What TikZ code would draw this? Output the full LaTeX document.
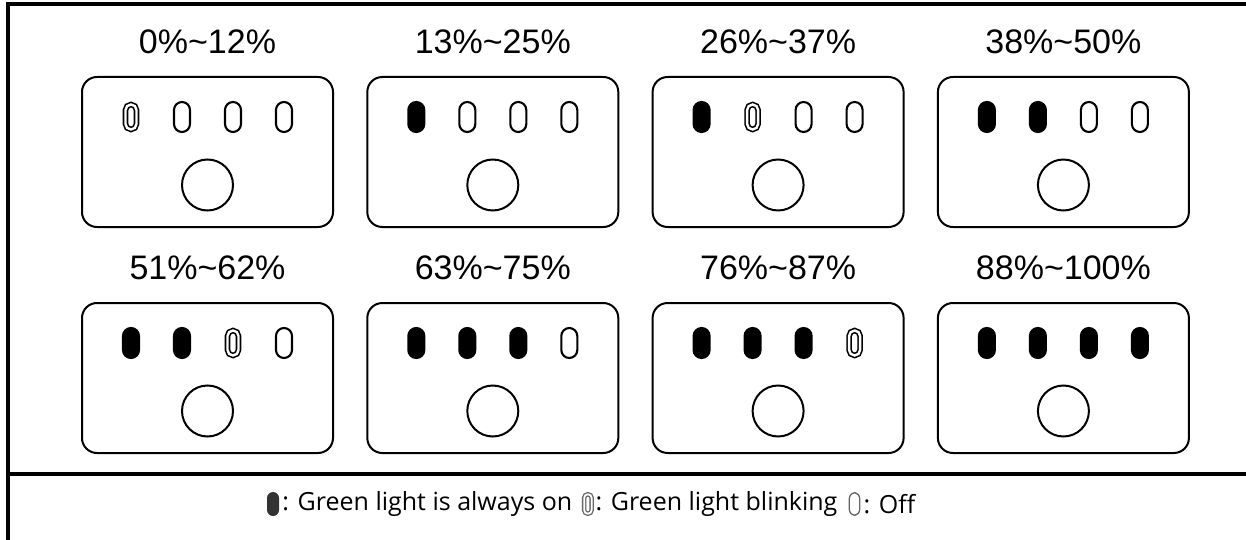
\documentclass[tikz,border=0pt]{standalone}
\usepackage{fontspec}
\setmainfont{Open Sans}
\newfontfamily\rangefont{Liberation Sans}
\usetikzlibrary{positioning}
\definecolor{icondark}{HTML}{333333}
\definecolor{icongrey}{HTML}{666666}
\tikzset{%
   tableline/.style={line width=3.2pt},
   panel/.style={
      draw,
      rounded corners=15pt,
      line width=2pt,
      minimum width=251pt,
      minimum height=150pt
   },
   rangetext/.style={
      font=\rangefont\fontsize{34}{34}\selectfont,
      inner sep=0pt
   },
   % lamp=on|off|blink picks one of the three looks below
   lamp/.style={lamp#1},
   lampbase/.style={
      rectangle,
      draw,
      inner sep=0pt,
      line width=2.1pt,
      rounded corners=8pt,
      minimum width=16pt,
      minimum height=30pt
   },
   lampon/.style={lampbase, fill=black},
   lampoff/.style={lampbase},
   lampblink/.style={
      lampbase,
      double,
      double distance=2.4pt,
      line width=1.6pt,
      rounded corners=5.5pt,
      minimum width=11pt,
      minimum height=25pt
   },
   button/.style={
      circle,
      draw,
      line width=2pt,
      inner sep=0pt,
      minimum size=51pt
   },
   key/.style={
      rectangle,
      inner sep=0pt,
      rounded corners=6pt,
      minimum width=12pt,
      minimum height=24pt
   },
   keytext/.style={font=\fontsize{25}{25}\selectfont, inner sep=0pt},
}

\begin{document}
\begin{tikzpicture}[x=1pt, y=-1pt]
   \useasboundingbox (0,0) rectangle (1246,540);
   % table lines
   \draw[tableline] (8,540) -- (8,4) -- (1246,4);
   \draw[tableline] (8,474) -- (1246,474);
   % one panel per charge range
   \foreach \rng/\c/\r/\la/\lb/\lc/\ld [count=\n] in {
      {0\%\textasciitilde12\%}/0/0/blink/off/off/off,
      {13\%\textasciitilde25\%}/1/0/on/off/off/off,
      {26\%\textasciitilde37\%}/2/0/on/blink/off/off,
      {38\%\textasciitilde50\%}/3/0/on/on/off/off,
      {51\%\textasciitilde62\%}/0/1/on/on/blink/off,
      {63\%\textasciitilde75\%}/1/1/on/on/on/off,
      {76\%\textasciitilde87\%}/2/1/on/on/on/blink,
      {88\%\textasciitilde100\%}/3/1/on/on/on/on} {
      \node[panel] (p\n) at ({207.5+285.3*\c}, {152+226*\r}) {};
      \node[rangetext, above=22pt of p\n] (r\n) {\rng};
      \foreach \s [count=\k] in {\la,\lb,\lc,\ld}
         \node[lamp/.expanded=\s] (p\n-\k)
            at ({207.5+285.3*\c+51*(\k-2.5)}, {152+226*\r-35}) {};
      \node[button] (b\n) at ({207.5+285.3*\c}, {152+226*\r+33}) {};
   }
   % legend
   \node[key, fill=icondark] (kon) at (273,504) {};
   \node[keytext, right=3pt of kon] (ton) {: Green light is always on};
   \node[key, right=11pt of ton, draw=icongrey, double, double distance=1.8pt,
      line width=1.3pt, minimum width=7.5pt, minimum height=19.5pt,
      rounded corners=3.7pt] (kbl) {};
   \node[keytext, right=3pt of kbl] (tbl) {: Green light blinking};
   \node[key, right=11pt of tbl, draw=icongrey, line width=1.3pt,
      minimum width=10.5pt, minimum height=22.5pt] (kof) {};
   \node[keytext, right=3pt of kof] (tof) {: Off};
\end{tikzpicture}
\end{document}
